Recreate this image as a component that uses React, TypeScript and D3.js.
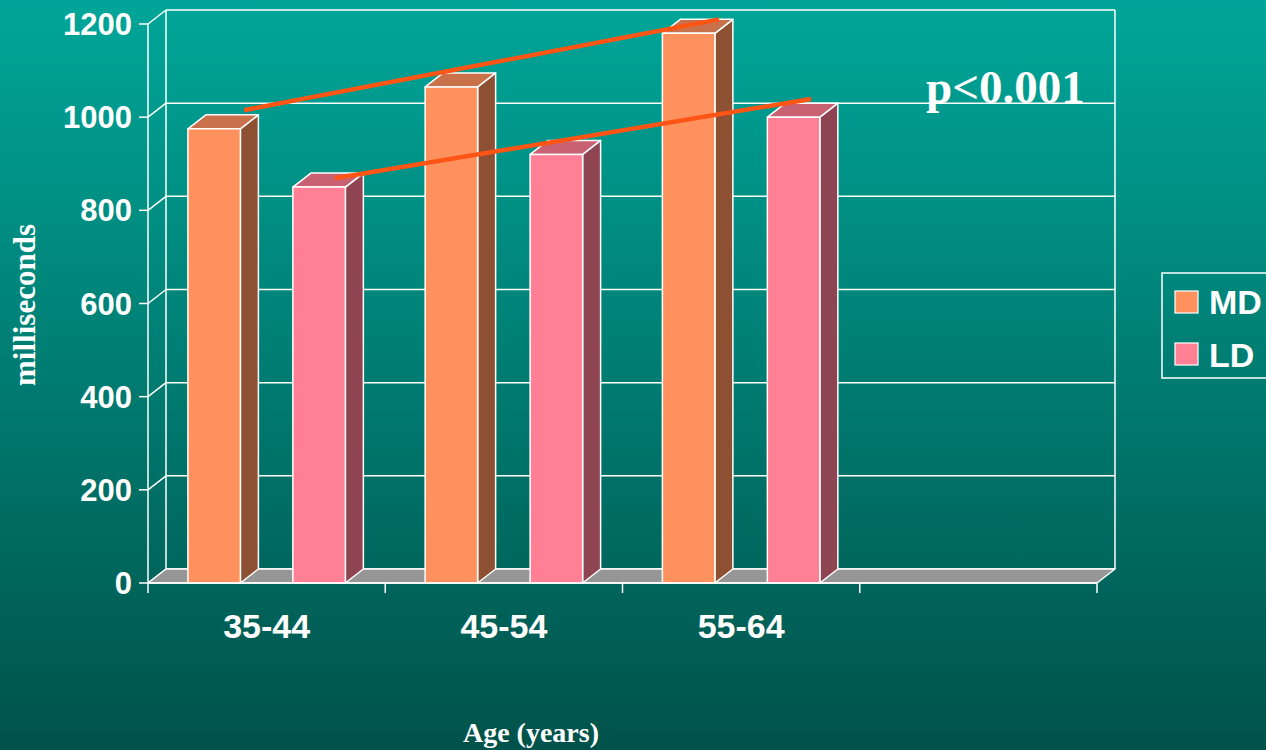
import React from "react";
import * as d3 from "d3";

// Age groups (last slot is an empty category on the axis)
const categories = ["35-44", "45-54", "55-64", ""];
const seriesNames = ["MD", "LD"];
const mdValues = [975, 1065, 1180];
const ldValues = [850, 920, 1000];
const yTicks = [0, 200, 400, 600, 800, 1000, 1200];

// Hand-drawn trend lines: position in category units, value in ms
const trendMD = [
  { pos: 0.405, value: 1015 },
  { pos: 2.407, value: 1210 },
];
const trendLD = [
  { pos: 0.788, value: 869 },
  { pos: 2.795, value: 1039 },
];

const W = 1266;
const H = 750;
const DX = 18;
const DY = 14;

const palette: Record<string, { front: string; top: string; side: string }> = {
  MD: { front: "#FF915F", top: "#C8714A", side: "#8E5032" },
  LD: { front: "#FF7F94", top: "#C86272", side: "#8F4452" },
};

export default function App() {
  const x = d3.scaleBand<string>().domain(categories).range([148, 1097]).paddingInner(0).paddingOuter(0);
  const inner = d3.scaleBand<string>().domain(seriesNames).range([0, x.bandwidth()]).paddingInner(0.5).paddingOuter(0.38);
  const y = d3.scaleLinear().domain([0, 1200]).range([583, 24]);
  const posX = d3.scaleLinear().domain([0, categories.length]).range([148, 1097]);

  const x0 = x.range()[0];
  const x1 = x.range()[1];
  const yBase = y(0);
  const yTop = y(1200);

  const bars: { key: string; s: string; cx: number; w: number; v: number }[] = [];
  categories.slice(0, 3).forEach((c, i) => {
    bars.push({ key: c + "MD", s: "MD", cx: (x(c) as number) + (inner("MD") as number), w: inner.bandwidth(), v: mdValues[i] });
    bars.push({ key: c + "LD", s: "LD", cx: (x(c) as number) + (inner("LD") as number), w: inner.bandwidth(), v: ldValues[i] });
  });

  const line = d3
    .line<{ pos: number; value: number }>()
    .x((d) => posX(d.pos))
    .y((d) => y(d.value));

  const white = "#FFFFFF";

  return (
    <svg width={W} height={H} style={{ position: "absolute", left: 0, top: 0 }}>
      <defs>
        <linearGradient id="bg" x1="0" y1="0" x2="0" y2="1">
          <stop offset="0" stopColor="#00A699" />
          <stop offset="1" stopColor="#00524A" />
        </linearGradient>
      </defs>
      <rect x={0} y={0} width={W} height={H} fill="url(#bg)" />

      {/* back wall gridlines */}
      {yTicks.map((t) => (
        <line key={"g" + t} x1={x0 + DX} x2={x1 + DX} y1={y(t) - DY} y2={y(t) - DY} stroke={white} strokeWidth={1.5} />
      ))}
      <line x1={x0 + DX} x2={x0 + DX} y1={yBase - DY} y2={yTop - DY} stroke={white} strokeWidth={1.5} />
      <line x1={x1 + DX} x2={x1 + DX} y1={yBase - DY} y2={yTop - DY} stroke={white} strokeWidth={1.5} />

      {/* side wall diagonals */}
      {yTicks.map((t) => (
        <line key={"d" + t} x1={x0} x2={x0 + DX} y1={y(t)} y2={y(t) - DY} stroke={white} strokeWidth={1.5} />
      ))}

      {/* floor */}
      <polygon
        points={`${x0},${yBase} ${x1},${yBase} ${x1 + DX},${yBase - DY} ${x0 + DX},${yBase - DY}`}
        fill="#969696"
        stroke={white}
        strokeWidth={1.5}
        strokeLinejoin="round"
      />

      {/* 3D bars */}
      {bars.map((b) => {
        const c = palette[b.s];
        const yt = y(b.v);
        const l = b.cx;
        const r = b.cx + b.w;
        return (
          <g key={b.key} stroke={white} strokeWidth={1.5} strokeLinejoin="round">
            <polygon points={`${r},${yBase} ${r + DX},${yBase - DY} ${r + DX},${yt - DY} ${r},${yt}`} fill={c.side} />
            <polygon points={`${l},${yt} ${r},${yt} ${r + DX},${yt - DY} ${l + DX},${yt - DY}`} fill={c.top} />
            <rect x={l} y={yt} width={b.w} height={yBase - yt} fill={c.front} />
          </g>
        );
      })}

      {/* value axis */}
      <line x1={x0} x2={x0} y1={yBase} y2={yTop} stroke={white} strokeWidth={1.5} />
      {yTicks.map((t) => (
        <g key={"t" + t}>
          <line x1={x0 - 9} x2={x0} y1={y(t)} y2={y(t)} stroke={white} strokeWidth={1.5} />
          <text
            x={132}
            y={y(t) + 11}
            textAnchor="end"
            fill={white}
            fontFamily="Liberation Sans, Arial, sans-serif"
            fontWeight="bold"
            fontSize={31}
          >
            {t}
          </text>
        </g>
      ))}

      {/* category axis */}
      <line x1={x0} x2={x1} y1={yBase} y2={yBase} stroke={white} strokeWidth={1.5} />
      {[...categories.map((c) => x(c) as number), x1].map((px, i) => (
        <line key={"ct" + i} x1={px} x2={px} y1={yBase} y2={yBase + 10} stroke={white} strokeWidth={1.5} />
      ))}
      {categories.map((c) => (
        <text
          key={"cl" + c}
          x={(x(c) as number) + x.bandwidth() / 2}
          y={638}
          textAnchor="middle"
          fill={white}
          fontFamily="Liberation Sans, Arial, sans-serif"
          fontWeight="bold"
          fontSize={34}
        >
          {c}
        </text>
      ))}

      {/* trend lines */}
      <path d={line(trendMD) as string} stroke="#FF5514" strokeWidth={4.5} fill="none" />
      <path d={line(trendLD) as string} stroke="#FF5514" strokeWidth={4.5} fill="none" />

      <text x={926} y={103} fill={white} fontFamily="Liberation Serif, Times New Roman, serif" fontWeight="bold" fontSize={47}>
        p&lt;0.001
      </text>

      {/* axis titles */}
      <text
        transform="translate(35,305) rotate(-90)"
        textAnchor="middle"
        fill={white}
        fontFamily="Liberation Serif, Times New Roman, serif"
        fontWeight="bold"
        fontSize={31}
      >
        milliseconds
      </text>
      <text x={531} y={742} textAnchor="middle" fill={white} fontFamily="Liberation Serif, Times New Roman, serif" fontWeight="bold" fontSize={28}>
        Age (years)
      </text>

      {/* legend */}
      <rect x={1162} y={273} width={120} height={105} fill="none" stroke={white} strokeWidth={1.5} />
      {seriesNames.map((s, i) => (
        <g key={"lg" + s}>
          <rect x={1175} y={291 + i * 52} width={23} height={22} fill={palette[s].front} stroke={white} strokeWidth={1.2} />
          <text x={1209} y={314 + i * 53} fill={white} fontFamily="Liberation Sans, Arial, sans-serif" fontWeight="bold" fontSize={34}>
            {s}
          </text>
        </g>
      ))}
    </svg>
  );
}
